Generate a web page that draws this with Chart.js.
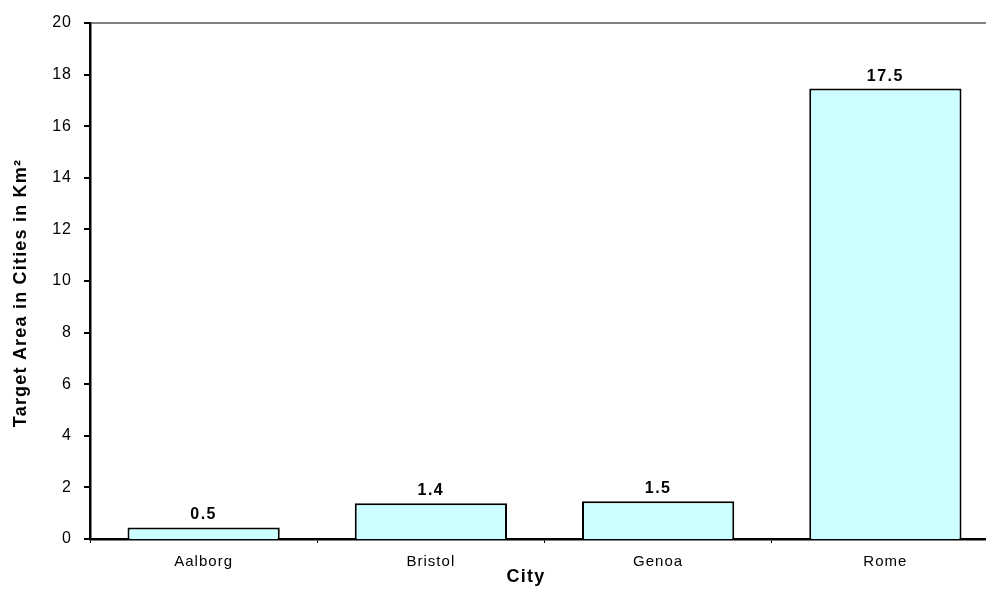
<!DOCTYPE html>
<html>
<head>
<meta charset="utf-8">
<script src="https://cdn.jsdelivr.net/npm/chart.js@4/dist/chart.umd.min.js"></script>
<style>
  html, body { margin: 0; padding: 0; background: #fff; overflow: hidden; }
  #wrap { width: 1004px; height: 590px; }
</style>
</head>
<body>
<div id="wrap"><canvas id="c" width="1004" height="590"></canvas></div>
<script>
const categories = ["Aalborg", "Bristol", "Genoa", "Rome"];
const targetArea = [0.45, 1.39, 1.46, 17.46];
const valueLabels = ["0.5", "1.4", "1.5", "17.5"];
const yTicks = [0, 2, 4, 6, 8, 10, 12, 14, 16, 18, 20];
const xTitle = "City";
const yTitle = "Target Area in Cities in Km\u00B2";

const FONT = "'Liberation Sans', Arial, sans-serif";

const spacingPlugin = {
  id: 'spacing',
  beforeDraw(chart) { chart.ctx.letterSpacing = '1px'; }
};

const labelsPlugin = {
  id: 'labels',
  afterDraw(chart) {
    const ctx = chart.ctx;
    const area = chart.chartArea;
    ctx.save();
    ctx.fillStyle = '#000';
    ctx.letterSpacing = '1.5px';
    ctx.font = 'bold 16px ' + FONT;
    ctx.textAlign = 'center';
    ctx.textBaseline = 'alphabetic';
    const meta = chart.getDatasetMeta(0);
    meta.data.forEach((bar, i) => {
      ctx.fillText(valueLabels[i], bar.x, bar.y - 8);
    });
    // axis titles
    ctx.letterSpacing = '1.2px';
    ctx.font = 'bold 18px ' + FONT;
    ctx.textBaseline = 'middle';
    ctx.fillText(xTitle, 526, 577);
    ctx.translate(21, (area.top + area.bottom) / 2 + 12);
    ctx.rotate(-Math.PI / 2);
    ctx.fillText(yTitle, 0, 0);
    ctx.restore();
  }
};

new Chart(document.getElementById('c'), {
  type: 'bar',
  data: {
    labels: categories,
    datasets: [{
      data: targetArea,
      backgroundColor: '#CCFFFF',
      borderColor: '#000',
      borderWidth: 2,
      borderSkipped: 'start',
      barPercentage: 0.67,
      categoryPercentage: 1.0
    }]
  },
  options: {
    responsive: false,
    animation: false,
    events: [],
    layout: { padding: { left: 0, right: 5, top: 23, bottom: 0 } },
    plugins: { legend: { display: false }, tooltip: { enabled: false }, title: { display: false } },
    scales: {
      x: {
        offset: true,
        grid: {
          offset: true,
          drawOnChartArea: false,
          drawTicks: true,
          tickLength: 4,
          tickColor: '#000',
          tickWidth: 1
        },
        border: { display: true, color: '#000', width: 2.5 },
        ticks: {
          color: '#000',
          font: { family: FONT, size: 15 },
          padding: 10,
          maxRotation: 0
        },
        afterFit(scale) { scale.height = 51; }
      },
      y: {
        min: 0,
        max: 20,
        afterBuildTicks(scale) { scale.ticks = yTicks.map(v => ({ value: v })); },
        grid: {
          drawOnChartArea: true,
          color: (c) => (c.tick && c.tick.value === 20) ? '#808080' : 'rgba(0,0,0,0)',
          lineWidth: (c) => (c.tick && c.tick.value === 20) ? 2 : 0,
          tickLength: 6,
          tickColor: '#000',
          tickWidth: 2
        },
        border: { display: true, color: '#000', width: 2.5 },
        ticks: {
          color: '#000',
          font: { family: FONT, size: 16 },
          padding: 12
        },
        afterFit(scale) { scale.width = 90; }
      }
    }
  },
  plugins: [spacingPlugin, labelsPlugin]
});
</script>
</body>
</html>
